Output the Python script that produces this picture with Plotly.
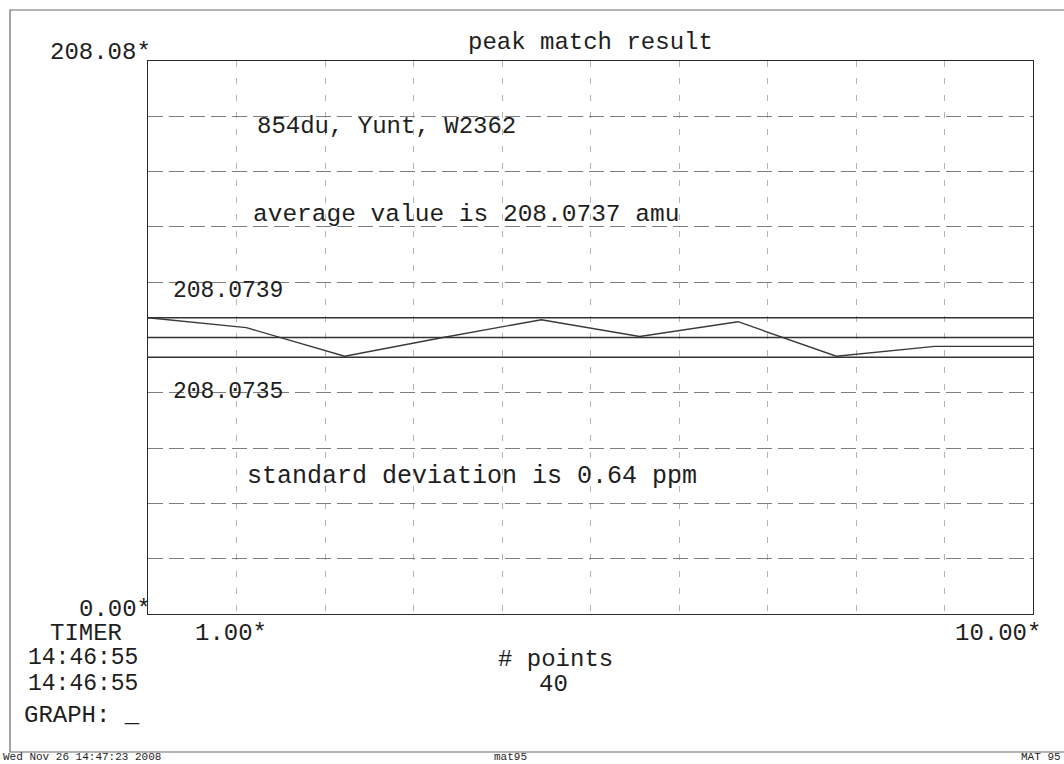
import plotly.graph_objects as go

# ---- peak match data (mass in amu per sample index) ----
sample_index = [1, 2, 3, 4, 5, 6, 7, 8, 9, 10]
measured_mass = [208.07390, 208.07380, 208.07351, 208.07370, 208.07388,
                 208.07371, 208.07386, 208.07351, 208.07361, 208.07361]
average_mass = 208.0737
upper_mass = 208.0739
lower_mass = 208.0735
std_ppm = 0.64
n_points = 40

# full-scale axis limits printed at the corners
y_full_min = 0.00
y_full_max = 208.08
x_min = 1.00
x_max = 10.00

title_text = "peak match result"
sample_label = "854du, Yunt, W2362"
timer_start = "14:46:55"
timer_end = "14:46:55"
print_stamp = "Wed Nov 26 14:47:23 2008"
host_name = "mat95"
instrument = "MAT 95"

# ---- page geometry ----
W, H = 1064, 764
L, R, T, B = 148, 31, 61, 150
PW, PH = W - L - R, H - T - B

FONT = "Courier New, Nimbus Mono PS, FreeMono, Courier, Liberation Mono, monospace"
INK = "#1e1e1e"


def px(x):
    return (x - L) / PW


def py(y):
    return (H - B - y) / PH


# expanded mass window around the average, drawn on an overlay axis
mass_half_window = 0.0028
mass_range = [average_mass - mass_half_window, average_mass + mass_half_window]

fig = go.Figure()

# invisible full-scale trace so the base axis (grid + frame) is laid out
fig.add_trace(go.Scatter(
    x=[x_min, x_max], y=[y_full_min, y_full_max],
    mode="markers", marker=dict(opacity=0, size=1),
    hoverinfo="skip", showlegend=False,
))

fig.add_trace(go.Scatter(
    x=sample_index, y=measured_mass, yaxis="y2",
    mode="lines", line=dict(color="#3a3a3a", width=1.4),
    hoverinfo="skip", showlegend=False,
))

# upper / average / lower reference levels
for level in (upper_mass, average_mass, lower_mass):
    fig.add_shape(type="line", xref="paper", yref="y2",
                  x0=0, x1=1, y0=level, y1=level,
                  line=dict(color="#333333", width=1.3))

# page frame
fig.add_shape(type="rect", xref="paper", yref="paper",
              x0=px(10), x1=px(1090), y0=py(752), y1=py(10),
              line=dict(color="#6a6a6a", width=1.2), layer="below")

annotations = []


def ann(text, x, y, xanchor="left", size=24, yanchor="middle", yref="paper", yshift=0):
    annotations.append(dict(
        text=text, x=px(x), y=(y if yref != "paper" else py(y)),
        xref="paper", yref=yref, xanchor=xanchor, yanchor=yanchor,
        yshift=yshift, showarrow=False, borderpad=0,
        font=dict(family=FONT, size=size, color=INK),
    ))


ann(title_text, 590, 42, xanchor="center")
ann(f"{y_full_max:.2f}*", 152, 53, xanchor="right")
ann(f"{y_full_min:.2f}*", 152, 609, xanchor="right")
ann(sample_label, 256, 127)
ann(f"average value is {average_mass:.4f} amu", 252, 214, size=24.5)
ann(f"{upper_mass:.4f}", 172, upper_mass, yref="y2", yshift=27, size=23)
ann(f"{lower_mass:.4f}", 172, lower_mass, yref="y2", yshift=-35, size=23)
ann(f"standard deviation is {std_ppm:.2f} ppm", 246, 476, size=25)
ann("TIMER", 49, 633)
ann(f"{x_min:.2f}*", 194, 633)
ann(f"{x_max:.2f}*", 1042, 633, xanchor="right")
ann(timer_start, 27, 658, size=23)
ann(timer_end, 27, 684, size=23)
ann("# points", 555, 659, xanchor="center")
ann(str(n_points), 553, 684, xanchor="center")
ann("GRAPH: _", 23, 715)
ann(print_stamp, 2, 757, size=11)
ann(host_name, 510, 757, xanchor="center", size=11)
ann(instrument, 1062, 757, xanchor="right", size=11)

fig.update_layout(
    width=W, height=H,
    margin=dict(l=L, r=R, t=T, b=B, pad=0),
    paper_bgcolor="white", plot_bgcolor="white",
    showlegend=False,
    annotations=annotations,
    xaxis=dict(
        range=[x_min, x_max], tick0=x_min, dtick=(x_max - x_min) / 10,
        showticklabels=False, ticks="",
        showgrid=True, gridcolor="#b4b4b4", gridwidth=1, griddash="6px,11px",
        zeroline=False,
        showline=True, mirror=True, linecolor="#2a2a2a", linewidth=1.2,
    ),
    yaxis=dict(
        range=[y_full_min, y_full_max], tick0=y_full_min,
        dtick=(y_full_max - y_full_min) / 10,
        showticklabels=False, ticks="",
        showgrid=True, gridcolor="#7e7e7e", gridwidth=1, griddash="15px,6px",
        zeroline=False,
        showline=True, mirror=True, linecolor="#2a2a2a", linewidth=1.2,
    ),
    yaxis2=dict(
        range=mass_range, overlaying="y", side="right",
        showticklabels=False, ticks="", showgrid=False,
        zeroline=False, showline=False,
    ),
)

fig.write_html("out.html")
